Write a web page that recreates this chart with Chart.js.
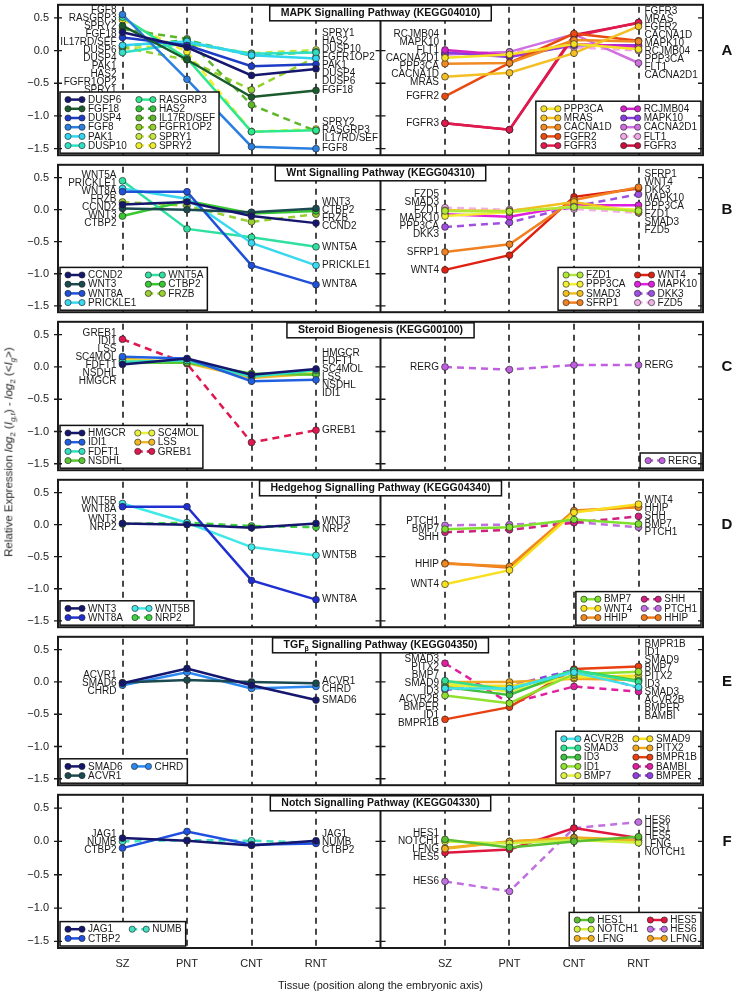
<!DOCTYPE html>
<html>
<head>
<meta charset="utf-8">
<script src="https://cdn.jsdelivr.net/npm/chart.js@4.4.1/dist/chart.umd.min.js"></script>
<style>
  body { margin: 0; background: #fff; }
  #wrap { position: relative; width: 738px; height: 994px; overflow: hidden; }
  #wrap canvas { position: absolute; left: 0; }
  #ylab {
    position: absolute; left: 10px; top: 452px; white-space: nowrap;
    font: 11.5px "Liberation Sans", Arial, sans-serif; color: #222;
    transform: translate(-50%, -50%) rotate(-90deg);
  }
  #ylab sub { font-size: 8px; }
</style>
</head>
<body>
<div id="wrap">
  <canvas id="pA" width="738" height="160" style="top:0px"></canvas>
  <canvas id="pB" width="738" height="157" style="top:160px"></canvas>
  <canvas id="pC" width="738" height="158" style="top:317px"></canvas>
  <canvas id="pD" width="738" height="157" style="top:475px"></canvas>
  <canvas id="pE" width="738" height="158" style="top:632px"></canvas>
  <canvas id="pF" width="738" height="204" style="top:790px"></canvas>
  <div id="ylab">Relative Expression <i>log</i><sub>2</sub> (<i>I</i><sub><i>g,t</i></sub>) - <i>log</i><sub>2</sub> (&lt;<i>I</i><sub><i>g</i></sub>&gt;)</div>
</div>
<script>
const FONT = '"Liberation Sans", Arial, sans-serif';

// x categories and y ticks
const tissues = ['SZ', 'PNT', 'CNT', 'RNT'];
const yTickValues = [-1.5, -1.0, -0.5, 0.0, 0.5];

// A - MAPK
const mapkLeftGenes = ['DUSP6', 'FGF18', 'DUSP4', 'FGF8', 'PAK1', 'DUSP10', 'RASGRP3', 'HAS2', 'IL17RD/SEF', 'FGFR1OP2', 'SPRY1', 'SPRY2'];
const mapkLeftValues = [
    [0.28, 0.05, -0.38, -0.28],
    [0.38, -0.14, -0.71, -0.61],
    [0.2, 0.08, -0.24, -0.21],
    [0.55, -0.44, -1.47, -1.5],
    [0.08, 0.14, -0.07, -0.12],
    [-0.03, 0.12, -0.05, -0.03],
    [0.51, -0.12, -1.24, -1.22],
    [0.07, 0.16, -0.08, -0.02],
    [0.33, 0.18, -0.83, -1.23],
    [0.05, -0.14, -0.6, -0.1],
    [0.03, 0.1, -0.04, 0.01],
    [0.47, -0.02, -1.24, -1.2]
];
const mapkRightGenes = ['PPP3CA', 'MRAS', 'CACNA1D', 'FGFR2', 'FGFR3', 'RCJMB04', 'MAPK10', 'CACNA2D1', 'FLT1', 'FGFR3'];
const mapkRightValues = [
    [-0.11, -0.06, 0.1, 0.02],
    [-0.4, -0.34, -0.04, 0.37],
    [-0.2, -0.19, 0.16, 0.14],
    [-0.7, -0.19, 0.26, 0.15],
    [-1.11, -1.21, 0.22, 0.43],
    [0.01, -0.07, 0.1, 0.06],
    [-0.03, -0.1, 0.08, 0.08],
    [-0.06, -0.02, 0.25, -0.19],
    [-0.05, -0.02, 0.05, 0.0],
    [-1.11, -1.21, 0.24, 0.42]
];

// B - Wnt
const wntLeftGenes = ['CCND2', 'WNT3', 'WNT8A', 'PRICKLE1', 'WNT5A', 'CTBP2', 'FRZB'];
const wntLeftValues = [
    [0.08, 0.12, -0.1, -0.21],
    [0.02, 0.0, -0.04, 0.02],
    [0.28, 0.28, -0.87, -1.17],
    [0.33, 0.17, -0.52, -0.87],
    [0.45, -0.3, -0.43, -0.58],
    [-0.1, 0.14, -0.06, -0.02],
    [0.12, 0.06, -0.19, -0.07]
];
const wntRightGenes = ['FZD1', 'PPP3CA', 'SMAD3', 'SFRP1', 'WNT4', 'MAPK10', 'DKK3', 'FZD5'];
const wntRightValues = [
    [-0.02, -0.03, 0.04, -0.02],
    [-0.1, -0.04, 0.05, 0.0],
    [-0.01, -0.02, 0.12, -0.04],
    [-0.66, -0.54, 0.15, 0.35],
    [-0.94, -0.71, 0.2, 0.33],
    [-0.07, -0.11, 0.07, 0.07],
    [-0.27, -0.2, 0.05, 0.24],
    [0.03, 0.0, 0.01, -0.05]
];

// C - Steroid
const sterLeftGenes = ['HMGCR', 'IDI1', 'FDFT1', 'NSDHL', 'SC4MOL', 'LSS', 'GREB1'];
const sterLeftValues = [
    [0.04, 0.13, -0.12, -0.03],
    [0.16, 0.13, -0.22, -0.2],
    [0.08, 0.1, -0.15, -0.05],
    [0.06, 0.07, -0.1, -0.12],
    [0.1, 0.09, -0.13, -0.07],
    [0.13, 0.06, -0.17, -0.1],
    [0.43, 0.05, -1.17, -0.98]
];
const sterRightGenes = ['RERG'];
const sterRightValues = [
    [0.0, -0.04, 0.03, 0.03]
];

// D - Hedgehog
const hhLeftGenes = ['WNT3', 'WNT8A', 'WNT5B', 'NRP2'];
const hhLeftValues = [
    [0.02, 0.0, -0.05, 0.02],
    [0.28, 0.28, -0.87, -1.17],
    [0.33, 0.03, -0.35, -0.48],
    [0.01, 0.03, -0.02, -0.04]
];
const hhRightGenes = ['BMP7', 'WNT4', 'HHIP', 'SHH', 'PTCH1', 'HHIP'];
const hhRightValues = [
    [-0.07, -0.04, 0.08, 0.01],
    [-0.93, -0.71, 0.19, 0.32],
    [-0.61, -0.65, 0.22, 0.27],
    [-0.12, -0.08, 0.03, 0.13],
    [-0.01, 0.0, 0.04, -0.04],
    [-0.6, -0.67, 0.21, 0.28]
];

// E - TGF beta
const tgfLeftGenes = ['SMAD6', 'ACVR1', 'CHRD'];
const tgfLeftValues = [
    [-0.02, 0.21, -0.05, -0.28],
    [-0.01, 0.03, 0.0, -0.02],
    [-0.05, 0.15, -0.1, -0.07]
];
const tgfRightGenes = ['ACVR2B', 'SMAD3', 'ID3', 'ID1', 'BMP7', 'SMAD9', 'PITX2', 'BMPR1B', 'BAMBI', 'BMPER'];
const tgfRightValues = [
    [-0.1, -0.1, 0.15, -0.08],
    [0.02, -0.12, 0.18, 0.0],
    [-0.08, -0.2, 0.18, 0.02],
    [-0.21, -0.33, 0.12, 0.16],
    [-0.02, -0.15, 0.1, 0.05],
    [-0.06, -0.06, 0.07, 0.1],
    [0.0, 0.0, 0.05, 0.03],
    [-0.58, -0.39, 0.2, 0.24],
    [0.29, -0.33, -0.07, -0.15],
    [-0.12, -0.06, 0.19, -0.09]
];

// F - Notch
const notchLeftGenes = ['JAG1', 'CTBP2', 'NUMB'];
const notchLeftValues = [
    [0.05, 0.01, -0.06, 0.01],
    [-0.1, 0.15, -0.05, -0.03],
    [0.0, 0.02, 0.01, -0.02]
];
const notchRightGenes = ['HES1', 'NOTCH1', 'LFNG', 'HES5', 'HES6', 'LFNG'];
const notchRightValues = [
    [0.03, -0.09, 0.0, 0.07],
    [0.0, -0.03, 0.02, -0.02],
    [-0.11, 0.0, 0.05, 0.01],
    [-0.17, -0.12, 0.2, 0.05],
    [-0.6, -0.75, 0.2, 0.29],
    [-0.1, 0.0, 0.06, 0.02]
];

// line colours and dash flags (style only)
const mapkLeftColors = ['#15166e', '#1b5a2c', '#1d3cc6', '#2a7fe0', '#32d6f0', '#30e0c4', '#2ce88e', '#33c23e', '#5cb82a', '#92d02a', '#c6e63e', '#f0ee2a'];
const mapkLeftDashed = [0, 0, 0, 0, 0, 0, 0, 1, 1, 1, 1, 1];
const mapkRightColors = ['#f4e024', '#f4bf22', '#f08a22', '#e84a12', '#e01a4e', '#d022c8', '#8a3ce0', '#d070e0', '#f2a8e8', '#c8103c'];
const mapkRightDashed = [0, 0, 0, 0, 0, 0, 0, 0, 1, 0];
const wntLeftColors = ['#15166e', '#1b4a50', '#2050d8', '#38d8f0', '#30e0a0', '#38c830', '#98d030'];
const wntLeftDashed = [0, 0, 0, 0, 0, 0, 1];
const wntRightColors = ['#b0e83a', '#f2f030', '#f0c020', '#f08020', '#e02010', '#e020e0', '#a050e0', '#f2b0e8'];
const wntRightDashed = [0, 0, 0, 0, 0, 0, 1, 1];
const sterLeftColors = ['#15166e', '#2060e0', '#30e0c0', '#58c830', '#e8f040', '#f0b828', '#e01850'];
const sterLeftDashed = [0, 0, 0, 0, 0, 0, 1];
const sterRightColors = ['#c060e0'];
const sterRightDashed = [1];
const hhLeftColors = ['#15166e', '#2030d0', '#40e8e8', '#40d040'];
const hhLeftDashed = [0, 0, 0, 1];
const hhRightColors = ['#80e030', '#f8e020', '#f08820', '#d02080', '#c070e0', '#f07818'];
const hhRightDashed = [0, 0, 0, 1, 1, 0];
const tgfLeftColors = ['#15166e', '#1b4a50', '#2a88f0'];
const tgfLeftDashed = [0, 0, 0];
const tgfRightColors = ['#40e0e8', '#30e090', '#40c040', '#90e030', '#e0f040', '#f8e020', '#f0a820', '#e84010', '#e020a0', '#9040e0'];
const tgfRightDashed = [0, 0, 0, 0, 0, 0, 0, 0, 1, 1];
const notchLeftColors = ['#15166e', '#2050e0', '#40e0c0'];
const notchLeftDashed = [0, 0, 1];
const notchRightColors = ['#58c030', '#d0f040', '#f0b020', '#e01840', '#c070e0', '#f0a020'];
const notchRightDashed = [0, 0, 0, 0, 1, 0];

const xLabels = ['', ...tissues, '', ...tissues, ''];
const leftIdx = tissues.map((t, i) => 1 + i);
const rightIdx = tissues.map((t, i) => 2 + tissues.length + i);
const divIdx = 1 + tissues.length;

function half(genes, values, colors, dashed) {
    return { genes, values, colors, dashed };
}

const panels = [
    { id: 'pA', padTop: 2, title: 'MAPK Signalling Pathway (KEGG04010)', letter: 'A',
      left: half(mapkLeftGenes, mapkLeftValues, mapkLeftColors, mapkLeftDashed),
      right: half(mapkRightGenes, mapkRightValues, mapkRightColors, mapkRightDashed) },
    { id: 'pB', padTop: 0, title: 'Wnt Signalling Pathway (KEGG04310)', letter: 'B',
      left: half(wntLeftGenes, wntLeftValues, wntLeftColors, wntLeftDashed),
      right: half(wntRightGenes, wntRightValues, wntRightColors, wntRightDashed) },
    { id: 'pC', padTop: 0, title: 'Steroid Biogenesis (KEGG00100)', letter: 'C',
      left: half(sterLeftGenes, sterLeftValues, sterLeftColors, sterLeftDashed),
      right: half(sterRightGenes, sterRightValues, sterRightColors, sterRightDashed) },
    { id: 'pD', padTop: 0, title: 'Hedgehog Signalling Pathway (KEGG04340)', letter: 'D',
      left: half(hhLeftGenes, hhLeftValues, hhLeftColors, hhLeftDashed),
      right: half(hhRightGenes, hhRightValues, hhRightColors, hhRightDashed) },
    { id: 'pE', padTop: 0, title: 'TGFβ Signalling Pathway (KEGG04350)', letter: 'E',
      left: half(tgfLeftGenes, tgfLeftValues, tgfLeftColors, tgfLeftDashed),
      right: half(tgfRightGenes, tgfRightValues, tgfRightColors, tgfRightDashed) },
    { id: 'pF', padTop: 0, title: 'Notch Signalling Pathway (KEGG04330)', letter: 'F', last: true,
      left: half(notchLeftGenes, notchLeftValues, notchLeftColors, notchLeftDashed),
      right: half(notchRightGenes, notchRightValues, notchRightColors, notchRightDashed) }
];

function buildDatasets(h, idx) {
    return h.genes.map((g, k) => {
        const data = xLabels.map(() => null);
        h.values[k].forEach((v, j) => { data[idx[j]] = v; });
        return {
            label: g,
            data: data,
            borderColor: h.colors[k],
            backgroundColor: h.colors[k],
            pointBackgroundColor: h.colors[k],
            pointBorderColor: 'rgba(35,35,35,0.8)',
            pointBorderWidth: 0.8,
            pointRadius: 3.4,
            borderWidth: 2.5,
            borderDash: h.dashed[k] ? [7, 5] : [],
            spanGaps: false,
            tension: 0
        };
    });
}

// push overlapping labels apart, keeping them inside lo..hi
function spreadLabels(items, gap, lo, hi) {
    const sorted = items.slice().sort((a, b) => a.y - b.y);
    const place = g => {
        const n = g.items.length;
        let top = g.sum / n - (n - 1) * gap / 2;
        g.top = Math.max(lo, Math.min(top, hi - (n - 1) * gap));
    };
    const groups = sorted.map(it => ({ items: [it], sum: it.y }));
    groups.forEach(place);
    let merged = true;
    while (merged) {
        merged = false;
        for (let i = 0; i < groups.length - 1; i++) {
            const a = groups[i], b = groups[i + 1];
            if (a.top + a.items.length * gap > b.top) {
                a.items = a.items.concat(b.items);
                a.sum += b.sum;
                place(a);
                groups.splice(i + 1, 1);
                merged = true;
                break;
            }
        }
    }
    const out = [];
    groups.forEach(g => g.items.forEach((it, k) => out.push({ text: it.text, y: g.top + k * gap })));
    return out;
}

function drawLabels(chart, h, idx, clipL, clipR) {
    const { ctx, chartArea: a, scales: { x, y } } = chart;
    ctx.save();
    ctx.beginPath();
    ctx.rect(clipL, a.top, clipR - clipL, a.bottom - a.top);
    ctx.clip();
    ctx.font = '10px ' + FONT;
    ctx.fillStyle = '#1a1a1a';
    ctx.textBaseline = 'middle';
    [[0, 'right', -6], [idx.length - 1, 'left', 6]].forEach(([j, align, dx]) => {
        const seen = new Set();
        const items = [];
        h.genes.forEach((g, k) => {
            const v = h.values[k][j];
            if (v == null || seen.has(g)) return;
            seen.add(g);
            items.push({ text: g, y: y.getPixelForValue(v) });
        });
        const placed = spreadLabels(items, 8, a.top + 5, a.bottom - 5);
        ctx.textAlign = align;
        const px = x.getPixelForValue(idx[j]) + dx;
        placed.forEach(p => ctx.fillText(p.text, px, p.y));
    });
    ctx.restore();
}

function drawLegend(chart, h, corner) {
    const { ctx, chartArea: a } = chart;
    const n = h.genes.length;
    const rows = Math.ceil(n / 2);
    const sample = 26, rowH = 9.2, pad = 3, colGap = 6;
    ctx.save();
    ctx.font = '10px ' + FONT;
    const cols = [[], []];
    h.genes.forEach((g, k) => cols[k < rows ? 0 : 1].push(k));
    const colW = cols.map(c => c.length ? sample + Math.max(...c.map(k => ctx.measureText(h.genes[k]).width)) : 0);
    const w = pad * 2 + colW[0] + (colW[1] ? colGap + colW[1] : 0);
    const hh = pad * 2 + rows * rowH;
    const left = corner === 'left' ? a.left + 2 : a.right - 2 - w;
    const top = a.bottom - 2 - hh;
    ctx.fillStyle = '#fff';
    ctx.fillRect(left, top, w, hh);
    ctx.strokeStyle = '#111';
    ctx.lineWidth = 1.5;
    ctx.strokeRect(left, top, w, hh);
    cols.forEach((c, ci) => {
        const x0 = left + pad + (ci ? colW[0] + colGap : 0);
        c.forEach((k, r) => {
            const yy = top + pad + rowH * (r + 0.5);
            ctx.strokeStyle = h.colors[k];
            ctx.lineWidth = 2.5;
            ctx.setLineDash(h.dashed[k] ? [5, 4] : []);
            ctx.beginPath();
            ctx.moveTo(x0 + 5, yy);
            ctx.lineTo(x0 + 19, yy);
            ctx.stroke();
            ctx.setLineDash([]);
            [x0 + 5, x0 + 19].forEach(mx => {
                ctx.beginPath();
                ctx.arc(mx, yy, 3.1, 0, Math.PI * 2);
                ctx.fillStyle = h.colors[k];
                ctx.fill();
                ctx.lineWidth = 0.8;
                ctx.strokeStyle = 'rgba(35,35,35,0.8)';
                ctx.stroke();
            });
            ctx.fillStyle = '#1a1a1a';
            ctx.textBaseline = 'middle';
            ctx.textAlign = 'left';
            ctx.fillText(h.genes[k], x0 + 25, yy + 0.5);
        });
    });
    ctx.restore();
}

function drawTitle(chart, text, cx) {
    const { ctx, chartArea: a } = chart;
    const parts = text.split('β');
    ctx.save();
    const mainFont = 'bold 10.5px ' + FONT, subFont = 'bold 7px ' + FONT;
    ctx.font = subFont;
    const subW = ctx.measureText('β').width;
    ctx.font = mainFont;
    const widths = parts.map(p => ctx.measureText(p).width);
    const total = widths.reduce((s, v) => s + v, 0) + subW * (parts.length - 1);
    const w = total + 22, hgt = 15;
    const left = cx - w / 2, top = a.top + 1;
    ctx.fillStyle = '#fff';
    ctx.fillRect(left, top, w, hgt);
    ctx.strokeStyle = '#111';
    ctx.lineWidth = 1.5;
    ctx.strokeRect(left, top, w, hgt);
    ctx.fillStyle = '#111';
    ctx.textBaseline = 'middle';
    ctx.textAlign = 'left';
    let tx = cx - total / 2;
    parts.forEach((p, i) => {
        ctx.font = mainFont;
        ctx.fillText(p, tx, top + hgt / 2);
        tx += widths[i];
        if (i < parts.length - 1) {
            ctx.font = subFont;
            ctx.fillText('β', tx, top + hgt / 2 + 3.5);
            tx += subW;
        }
    });
    ctx.restore();
}

function makePanelPlugin(p) {
    return {
        id: 'panel' + p.letter,
        beforeDatasetsDraw(chart) {
            const { ctx, chartArea: a, scales: { x } } = chart;
            ctx.save();
            ctx.strokeStyle = '#1a1a1a';
            ctx.lineWidth = 1.6;
            ctx.setLineDash([6, 5]);
            leftIdx.concat(rightIdx).forEach(i => {
                const px = Math.round(x.getPixelForValue(i));
                ctx.beginPath();
                ctx.moveTo(px, a.top + 2);
                ctx.lineTo(px, a.bottom);
                ctx.stroke();
            });
            ctx.restore();
        },
        afterDatasetsDraw(chart) {
            const { ctx, chartArea: a, scales: { x, y } } = chart;
            const divX = x.getPixelForValue(divIdx);
            drawLabels(chart, p.left, leftIdx, a.left, divX);
            drawLabels(chart, p.right, rightIdx, divX, a.right);
            drawLegend(chart, p.left, 'left');
            drawLegend(chart, p.right, 'right');

            ctx.save();
            ctx.strokeStyle = '#1a1a1a';
            ctx.lineWidth = 2;
            ctx.strokeRect(a.left, a.top, a.right - a.left, a.bottom - a.top);
            ctx.beginPath();
            ctx.moveTo(divX, a.top);
            ctx.lineTo(divX, a.bottom);
            ctx.stroke();
            ctx.lineWidth = 1.3;
            yTickValues.forEach(v => {
                const py = y.getPixelForValue(v);
                ctx.beginPath();
                ctx.moveTo(a.left - 4, py); ctx.lineTo(a.left + 4, py);
                ctx.moveTo(divX - 5, py); ctx.lineTo(divX + 5, py);
                ctx.moveTo(a.right - 5, py); ctx.lineTo(a.right, py);
                ctx.stroke();
            });
            ctx.restore();

            drawTitle(chart, p.title, divX);

            ctx.save();
            ctx.font = 'bold 15px ' + FONT;
            ctx.fillStyle = '#111';
            ctx.textAlign = 'center';
            ctx.textBaseline = 'middle';
            ctx.fillText(p.letter, 727, y.getPixelForValue(0));
            ctx.restore();
        }
    };
}

panels.forEach(p => {
    const datasets = buildDatasets(p.left, leftIdx).concat(buildDatasets(p.right, rightIdx));
    new Chart(document.getElementById(p.id), {
        type: 'line',
        data: { labels: xLabels, datasets: datasets },
        options: {
            responsive: false,
            animation: false,
            devicePixelRatio: 1,
            layout: { padding: { top: p.padTop, right: 35, bottom: 0, left: 0 } },
            plugins: { legend: { display: false }, tooltip: { enabled: false } },
            scales: {
                x: {
                    type: 'category',
                    display: !!p.last,
                    offset: false,
                    grid: { display: false, drawTicks: false },
                    border: { display: false },
                    ticks: { autoSkip: false, maxRotation: 0, padding: 9, color: '#222', font: { family: FONT, size: 11 } },
                    title: { display: true, text: 'Tissue (position along the embryonic axis)', color: '#222', font: { family: FONT, size: 11 }, padding: { top: 4, bottom: 1 } },
                    afterFit: s => {
                        s.height = p.last ? 46 : 0;
                        s.paddingLeft = 0;
                        s.paddingRight = 0;
                    }
                },
                y: {
                    min: -1.6,
                    max: 0.7,
                    grid: { display: false, drawTicks: false },
                    border: { display: false },
                    afterBuildTicks: s => { s.ticks = yTickValues.map(v => ({ value: v })); },
                    afterFit: s => { s.width = 58; s.paddingTop = 0; s.paddingBottom = 0; },
                    ticks: {
                        padding: 9,
                        color: '#222',
                        font: { family: FONT, size: 11 },
                        callback: v => (v < 0 ? '\u2212' : '') + Math.abs(v).toFixed(1)
                    }
                }
            }
        },
        plugins: [makePanelPlugin(p)]
    });
});
</script>
</body>
</html>
